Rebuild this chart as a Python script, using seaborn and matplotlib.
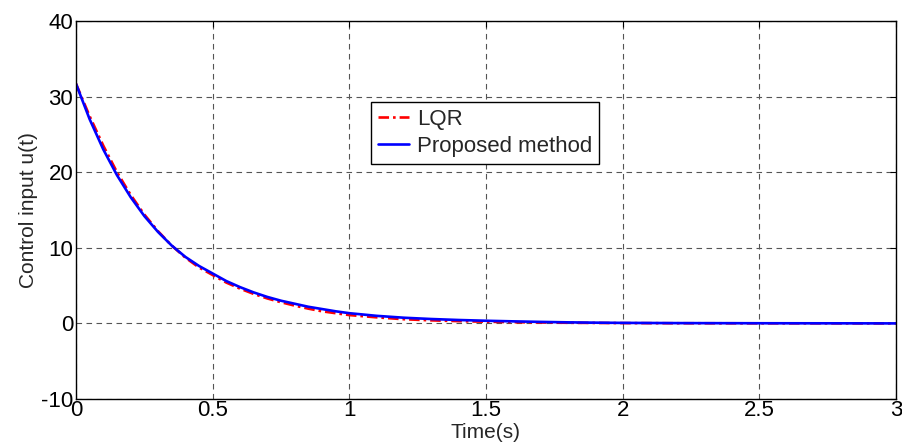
import matplotlib
matplotlib.use("Agg")
import matplotlib.pyplot as plt
import seaborn as sns
import pandas as pd

time_s = [0.0, 0.05, 0.1, 0.15, 0.2, 0.25, 0.3, 0.35, 0.4, 0.45, 0.5, 0.55, 0.6, 0.65,
          0.7, 0.75, 0.8, 0.85, 0.9, 0.95, 1.0, 1.1, 1.2, 1.3, 1.4, 1.5, 1.6, 1.7,
          1.8, 1.9, 2.0, 2.2, 2.5, 2.8, 3.0]
u_lqr = [31.7, 27.4, 23.5, 20.0, 17.0, 14.4, 12.2, 10.3, 8.7, 7.4, 6.4, 5.4, 4.6, 3.9,
         3.3, 2.8, 2.35, 1.95, 1.6, 1.35, 1.1, 0.8, 0.55, 0.4, 0.3, 0.22, 0.16, 0.12,
         0.08, 0.06, 0.04, 0.02, 0.01, 0.005, 0.0]
u_proposed = [31.7, 27.0, 23.0, 19.6, 16.7, 14.2, 12.1, 10.3, 8.8, 7.6, 6.6, 5.6, 4.8, 4.1,
              3.5, 3.0, 2.6, 2.2, 1.9, 1.6, 1.35, 1.0, 0.75, 0.58, 0.45, 0.35, 0.27, 0.2,
              0.14, 0.1, 0.07, 0.04, 0.02, 0.01, 0.0]
series_names = ["LQR", "Proposed method"]
x_ticks = [0, 0.5, 1, 1.5, 2, 2.5, 3]
x_tick_labels = ["0", "0.5", "1", "1.5", "2", "2.5", "3"]
y_ticks = [-10, 0, 10, 20, 30, 40]
y_tick_labels = ["-10", "0", "10", "20", "30", "40"]

sns.set_style("white")
plt.rcParams['font.family'] = ['Liberation Sans', 'DejaVu Sans']

df = pd.concat([
    pd.DataFrame({"t": time_s, "u": u_lqr, "method": series_names[0]}),
    pd.DataFrame({"t": time_s, "u": u_proposed, "method": series_names[1]}),
])

fig = plt.figure(figsize=(9.03, 4.48), dpi=100)
ax = fig.add_axes([76/903, 49/448, 820/903, 378/448])

sns.lineplot(data=df, x="t", y="u", hue="method", style="method",
             palette={"LQR": "#ff0000", "Proposed method": "#0000ff"},
             dashes={"LQR": (4, 1.5, 1, 1.5), "Proposed method": ""},
             linewidth=1.9, ax=ax, legend=True)
for line in ax.lines:
    if line.get_label() == "Proposed method":
        line.set_zorder(3)

ax.set_xlim(0, 3)
ax.set_ylim(-10, 40)
ax.set_xticks(x_ticks)
ax.set_xticklabels(x_tick_labels)
ax.set_yticks(y_ticks)
ax.set_yticklabels(y_tick_labels)
ax.tick_params(direction="in", length=4, width=0.8, labelsize=16, pad=1,
               top=True, right=True, colors="black")
ax.tick_params(axis="y", pad=2)
ax.grid(True, color="#555555", linestyle=(0, (5, 4)), linewidth=0.8)
for s in ax.spines.values():
    s.set_color("black")
    s.set_linewidth(1.0)
    s.set_visible(True)

ax.set_xlabel("Time(s)", fontsize=15, labelpad=1)
ax.set_ylabel("Control input u(t)", fontsize=15, labelpad=2)

handles, labels = ax.get_legend_handles_labels()
leg = ax.legend(handles, labels, loc="upper left", bbox_to_anchor=(0.36, 0.786),
                borderaxespad=0, fontsize=16, frameon=True, fancybox=False,
                edgecolor="black", framealpha=1, handlelength=1.4, handletextpad=0.35,
                borderpad=0.3, labelspacing=0.3)
leg.get_frame().set_linewidth(1.0)

fig.savefig("out.png", dpi=100)
